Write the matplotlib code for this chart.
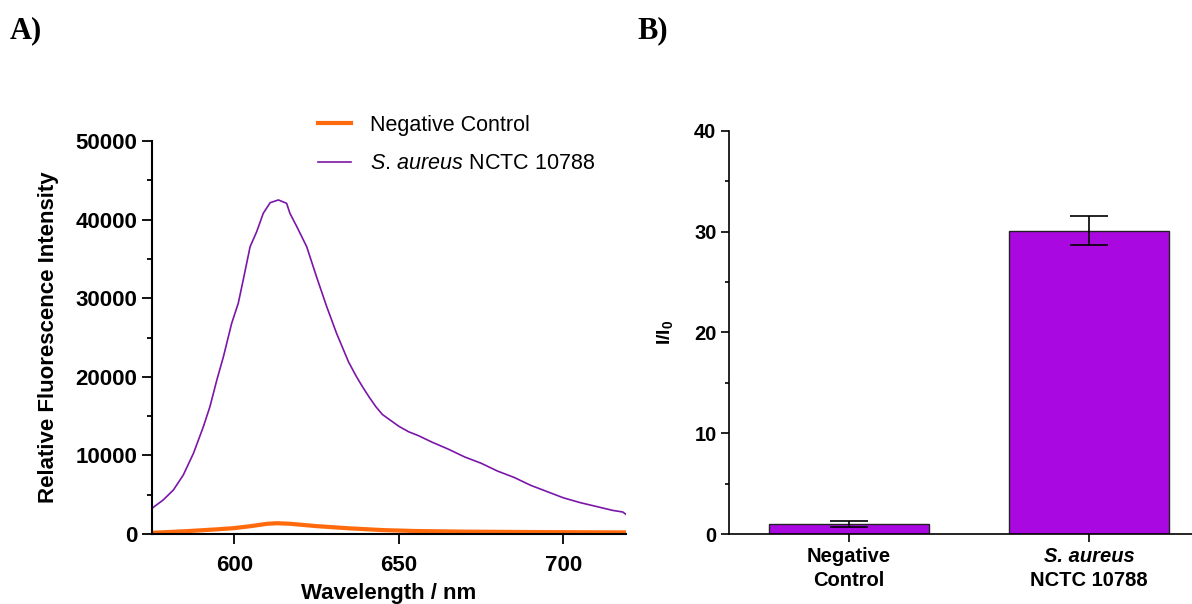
import matplotlib
matplotlib.use("Agg")
import matplotlib.pyplot as plt
import numpy as np

plt.rcParams['font.family'] = ['Liberation Sans', 'DejaVu Sans']
plt.rcParams['mathtext.fontset'] = 'custom'
plt.rcParams['mathtext.rm'] = 'Liberation Sans'
plt.rcParams['mathtext.it'] = 'Liberation Sans:italic'
plt.rcParams['mathtext.bf'] = 'Liberation Sans:bold'

# ---- panel A: emission spectra ----
wl_sa = [575, 578.4, 581.5, 584.5, 587.6, 590.6, 592.6, 594.7, 596.7, 599.2, 601.2,
         602.7, 604.8, 606.8, 608.8, 610.9, 613.4, 615.9, 616.9, 619, 622, 625, 628.1,
         631.1, 634.7, 637, 639, 641, 643, 645, 648, 650, 653, 656, 660, 665, 670,
         675, 680, 685, 690, 695, 700, 705, 710, 715, 718, 719]
int_sa = [3270, 4330, 5600, 7500, 10270, 13650, 16200, 19600, 22560, 26800, 29350,
          32300, 36550, 38460, 40800, 42150, 42500, 42070, 40800, 39100, 36550, 32700,
          28900, 25500, 21900, 20100, 18700, 17400, 16200, 15200, 14300, 13700, 13000,
          12500, 11700, 10800, 9800, 9000, 8000, 7200, 6200, 5400, 4600, 4000, 3500,
          3000, 2800, 2500]

wl_nc = [575, 585, 595, 600, 605, 610, 613, 617, 625, 635, 645, 655, 670, 690, 719]
int_nc = [150, 350, 600, 750, 1000, 1300, 1370, 1300, 1000, 720, 500, 380, 300, 250, 200]

# ---- panel B: I/I0 ----
groups = ['Negative Control', 'S. aureus NCTC 10788']
ratio = [0.95, 30.1]
ratio_err = [0.3, 1.4]

orange = '#FF6A0D'
purple = '#7A16A8'
barcol = '#AA08E0'

fig = plt.figure(figsize=(11.92, 6.04), dpi=100)

ax = fig.add_axes([152/1192, 1-534/604, 474/1192, 393/604])
ax.plot(wl_nc, int_nc, color=orange, lw=3, label='Negative Control')
ax.plot(wl_sa, int_sa, color=purple, lw=1.2, label=r'$\it{S.}\,\it{aureus}$ NCTC 10788')
ax.set_xlim(575, 719)
ax.set_ylim(0, 50000)
ax.set_xticks([600, 650, 700])
ax.set_yticks(np.arange(0, 50001, 10000))
ax.set_yticks(np.arange(5000, 50000, 10000), minor=True)
for s in ['top', 'right']:
    ax.spines[s].set_visible(False)
for s in ['left', 'bottom']:
    ax.spines[s].set_linewidth(1.5)
ax.tick_params(axis='both', which='major', length=7, width=1.3, labelsize=16)
ax.tick_params(axis='y', which='minor', length=3.5, width=1.3)
ax.tick_params(axis='x', pad=8)
ax.tick_params(axis='y', pad=3.5)
for t in ax.get_xticklabels() + ax.get_yticklabels():
    t.set_fontweight('bold')
ax.set_xlabel('Wavelength / nm', fontsize=16, fontweight='bold', labelpad=5)
ax.set_ylabel('Relative Fluorescence Intensity', fontsize=16, fontweight='bold', labelpad=12)
ax.legend(loc='upper left', bbox_to_anchor=(318/1192, 1-115/604), bbox_transform=fig.transFigure,
          frameon=False, fontsize=15.5, handlelength=1.55, handletextpad=0.85,
          labelspacing=0.8, borderpad=0, borderaxespad=0)

# ---- panel B ----
bx = fig.add_axes([729/1192, 1-534/604, 480/1192, 403.3/604])
xpos = np.arange(len(groups))
bx.bar(xpos, ratio, width=0.667, color=barcol, edgecolor='#222222', linewidth=1.0)
bx.errorbar(xpos, ratio, yerr=ratio_err, fmt='none', ecolor='black', elinewidth=1.2,
            capsize=14, capthick=1.2)
bx.set_xlim(-0.5, 1.5)
bx.set_ylim(0, 40)
bx.set_yticks(np.arange(0, 41, 10))
bx.set_yticks(np.arange(5, 40, 10), minor=True)
bx.set_xticks(xpos)
bx.set_xticklabels(['', ''])
for s in ['top', 'right']:
    bx.spines[s].set_visible(False)
for s in ['left', 'bottom']:
    bx.spines[s].set_linewidth(1.2)
bx.tick_params(axis='both', which='major', length=6, width=1.2, labelsize=14.5)
bx.tick_params(axis='y', which='minor', length=3, width=1.2)
bx.tick_params(axis='y', pad=3)
for t in bx.get_yticklabels():
    t.set_fontweight('bold')
bx.set_ylabel(r'$\mathbf{I/I_0}$', fontsize=14, labelpad=14)

lines = [[('Negative', 'normal'), ('Control', 'normal')],
         [('S. aureus', 'italic'), ('NCTC 10788', 'normal')]]
for xi, pair in zip(xpos, lines):
    for k, (txt, style) in enumerate(pair):
        bx.annotate(txt, xy=(xi, 0), xycoords=('data', 'axes fraction'),
                    xytext=(0, -16.5 - 17 * k), textcoords='offset points',
                    ha='center', va='center', fontsize=14.5, fontweight='bold',
                    fontstyle=style)

fig.text(10/1192, 1-31/604, 'A)', family='Liberation Serif', fontweight='bold',
         fontsize=22, va='center', ha='left')
fig.text(637/1192, 1-31/604, 'B)', family='Liberation Serif', fontweight='bold',
         fontsize=22, va='center', ha='left')

fig.savefig('out.png', dpi=100)
